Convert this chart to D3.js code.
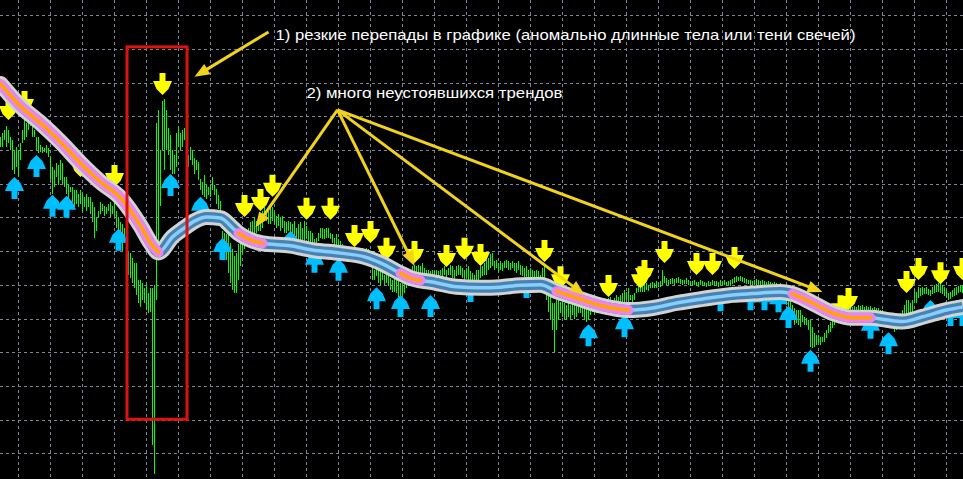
<!DOCTYPE html>
<html><head><meta charset="utf-8">
<script src="https://cdn.jsdelivr.net/npm/d3@7"></script>
<style>html,body{margin:0;padding:0;background:#000;overflow:hidden}</style>
</head><body>
<svg id="chart" width="963" height="479"></svg>
<script>
// Price data in pips above 1.3000, one bar per index
const highs = [94,95,96,97,96,94,93,90,91,90,
 92,96,99,98,99,100,97,96,94,94,
 91.5,91,90.5,91.5,90.5,88,85,84,86,85.5,
 87,86,82,82,80,79,79,78,78,77,
 78,77,76,77,76,76,74.5,73,70,72,
 74.5,74,73.5,73,74,74.5,73.5,75,72,70,
 68.5,68,67,63,60,59.5,58,56.5,56.5,51.5,
 51.5,50.5,49,50,47.5,49,49,50,98,102,
 90,104.5,105,102,96.5,94.5,90,88.5,95,97,
 95,96,96.5,91,88.5,91,90,87.5,87,86.5,
 81.5,80.5,82.5,79.5,79,79.5,82,79.5,78.5,76.5,
 75,66,65.5,65,65.5,62.5,60.5,58.5,59.5,62,
 64,67,67,66,67,68.5,69,70,69,70.5,
 71,72,73,71.5,72,74,73,71.5,70.5,71,
 70,70.5,69,68.5,69,68.5,68,69,67,68,
 68.5,67,69,67.5,66,66,65.5,63.5,64,65.5,
 67,67,66.5,67,67,65.5,65,64,65,63.5,
 63,62,61,61,60.5,61,60.5,60.5,60,61,
 59.5,61,60.5,61,60.5,59,55,54.5,55.5,54.5,
 54,54.5,53,54,53,52,51.5,52,51.5,51.5,
 50.5,50,51,51.5,53,54.5,55.5,56,55.5,56,
 55.5,56.5,55,54.5,54.5,54,54.5,54,54.5,54,
 54.5,55,55.5,54.5,55,56,55.5,54.5,55.5,56,
 55.5,55,54.5,55,55.5,54,53.5,53,54.5,54.5,
 55.5,55.5,56.5,57.5,58,59,59.5,57,57.5,56.5,
 57,56.5,57,57.5,57,56.5,57,56.5,56.5,57,
 56,55.5,55,55.5,54.5,55,54.5,54,54.5,54,
 53,55,55.5,50.5,49.5,46.5,44.5,44.5,45.5,45.5,
 45,45,44.5,44,44.5,44,45.5,45,44.5,45,
 45.5,44.5,44,44,43.5,44.5,45.5,45,45.5,45.5,
 45,45.5,46,45.5,46,46.5,45.5,46,47,46.5,
 47,47.5,48.5,48,49,47,47,47.5,49,49.5,
 50,49.5,50.5,50.5,50,50.5,50.8,50.5,51,50.5,
 51,54.5,52.5,52,51.5,51.7,52,51.7,52,52.3,
 51.7,51.4,51.4,52,51.4,51,51,51.4,50.8,50.8,
 51.4,51,50.8,50.5,51,50.8,51.4,51,51,50.8,
 51.4,51,51.4,50.8,51,51.4,51.7,52.3,52.6,52.3,
 52.6,52.3,52,51.7,51.4,51.4,51,51.4,51.7,51.4,
 51,51.4,51,50.8,51,50.8,50.5,50.8,50.5,50.2,
 50.5,49.9,49.3,47.9,47,45.5,44,43,42.5,42.5,
 42.5,41,40.4,40.2,39.6,39.6,37.5,35.7,35,35,
 34.5,34.5,35.7,36.6,38,39,40.2,41,41.6,42,
 42.5,43,43.4,44,43.7,44,43.4,43.7,43.4,44,
 43.7,44,43.4,43.7,43.4,43.7,43,43.4,43,43,
 42.5,42.5,42,41.6,41,40.2,39.6,38.6,39.6,40.7,
 41.6,42.5,44,45.5,45.5,44.6,45.5,48.5,47.9,49.3,
 49,49.3,49,49.3,48.7,48.5,49.3,49.9,50.2,50.5,
 50.8,49.9,49.3,48.5,47.6,47.9,48.5,49,49.3,49.6,
 49.9,49.6];
const lows = [91,91,93,91,92,90,84,83,85,82,
 87,92,93,94,96,97,94,94,90,89,
 89.5,89,89.5,89,88,81,77,79,82,79.5,
 81,80,79,77,75,77.5,74.5,73,74,73,
 74,72,73,72,73,71,68.5,64,66,70,
 71,72,70.5,71,72,70,71,70.5,67,64,
 62.5,60,62.5,56,53,52,50.5,49,47,44.5,
 43.5,45.5,44.5,42.5,41.5,42,2.5,-6,45.5,59,
 73.5,90,84,90,88.5,84,83,83,85,91,
 90,91,93,84,85,87,85.5,83,84,81,
 78,76.5,76,75.5,76.5,76,78,76.5,74,72.5,
 70.5,63,60.5,57.5,53.5,50.5,48.5,47.5,47.5,51.5,
 55.5,59.5,60.5,62,63,63,64,65,65.5,66,
 66,67,69,69,68,68,69,68,67,67.5,
 66,67,65.5,65.5,66,65,64,64,63.5,63.5,
 63,62,62.5,63.5,62,61,62,61,62,63,
 64,63.5,63.5,64,64,63.5,62.5,61,60.5,61,
 60.5,59,59,58.5,58,58.5,57.5,58,57.5,58.5,
 56.5,58.5,58,57.5,57,56,51.5,51.5,52.5,50.5,
 50,51.5,50,50.5,49.5,48.5,48,48,47.5,46.5,
 46.5,47,47.5,49,50,51,51.5,52,52,53.5,
 52.5,53,51.5,52,51.5,52,52.5,52,52,51.5,
 53,52.5,53,52,53,53,52,51.5,52.5,53,
 53,52,51.5,52,51.5,51.5,51,50.5,51,51.5,
 52,52.5,53,53,54.5,55,55.5,54.5,55,53.5,
 54.5,54,55,55,54.5,54.5,55,54,53.5,54.5,
 53,52.5,52,51.5,51,51.5,50.5,50,50.5,49.5,
 49,52,50.5,45.5,42,39.5,36.5,30,36.5,39.5,
 41.5,40.5,40,39.5,40.5,39.5,41,40,40.5,41.5,
 41.5,40.5,39.5,39,39.5,41,42,41,41.5,42,
 41.5,42.5,42.5,42,43,42.5,42,43.5,44,43.5,
 44,44.5,44.5,45.5,44.5,45.5,45,45.5,47.5,48,
 48,48,48,48.5,48.2,49,49,49,49,49.3,
 49.3,50,50.5,50,50,50.2,50.2,50,50.5,50.5,
 50.2,50,50.2,50.2,50,49.6,50,50,49.6,49.3,
 50,49.6,49.6,49.3,50,49.6,50,49.6,49.6,49.3,
 50,49.6,50,49.6,50,49.6,50.2,50.5,50.8,51,
 51,50.8,50.5,50.2,50.2,50,50,50.2,50,50,
 49.6,50,50,49.6,49.6,49.3,49.3,49,49,48.7,
 48.5,47.9,47,44,42.5,41,39.6,38,38.6,38,
 37.5,39,38,38,36.6,31.5,31.2,31.5,32,32.7,
 32,33,33,34.2,35.7,36,37.2,38,39,39.6,
 40.2,40.7,41,41.6,41.6,41.6,41.6,41.9,41.6,41.9,
 41.6,41.9,41.6,41.9,41.6,41.9,41.6,41.9,41.3,41.6,
 41,40.7,40.2,39.6,38.9,38,37.5,36,36.6,37.8,
 38.6,39.6,40.2,40.4,41.3,41.9,40.4,44.6,44.6,46,
 46.7,47,47.3,47.3,47,46.7,47.3,47.6,47.9,47.9,
 47.6,47.3,46.7,46.1,45.5,45.8,46.4,46.7,47,47.6,
 47.9,47.6];

// Moving average samples (bar index, value)
const maBars = [0,10,20,30,40,50,60,70,75,79,86,92,97,103,110,116,119,125,131,145,156,170,182,190,200,205,210,215,228,240,250,260,270,278,285,291,301,308,314,326,338,351,366,376,390,396,406,416,426,435,443,451,461,473,481];
const maValues = [109.6,103.0,98.0,92.4,86.1,80.5,75.8,67.5,62.4,59.6,64.2,66.9,68.9,70.1,69.8,66.9,65.3,63.3,62.3,61.6,60.3,59.4,58.3,56.5,53.4,52.0,51.3,50.9,49.4,49.1,49.3,49.9,50.0,48.1,46.7,45.5,43.7,42.9,42.5,43.1,44.6,45.8,47.0,47.4,47.9,47.3,44.6,41.6,40.2,40.2,39.6,39.1,40.5,42.5,43.4];
const downTrendRanges = [[0,79],[119,131],[200,210],[278,314],[396,435]];

// Signal arrows: bar index and tip price
const sellBars = [4,12,40,57,81,122,130,136,153,165,177,185,193,207,223,232,240,272,280,304,320,322,332,348,356,367,420,424,453,459,470,481];
const sellPrices = [98.9,101.0,82.0,79.0,106.3,70.1,71.9,76.1,69.3,69.3,61.2,62.4,57.4,56.5,55.3,57.4,55.6,56.8,49.0,46.4,49.0,50.8,56.5,52.9,52.9,54.7,40.4,42.5,47.6,51.4,50.2,51.4];
const buyBars = [7,18,26,33,59,85,100,111,145,157,169,188,200,215,235,263,294,312,360,375,382,389,394,405,435,444,465,475,481];
const buyPrices = [82.0,88.5,76.7,76.4,66.6,82.9,76.1,63.9,66.0,60.1,57.7,49.3,47.0,47.0,51.4,52.6,38.3,41.0,48.7,49.0,49.0,48.4,43.7,30.7,40.5,35.9,45.5,44.3,44.3];

// Grid ticks
const gridBars = d3.range(9, 482, 16);
const gridPrices = d3.range(0, 131, 10);

// Highlight box (bars / prices)
const boxBars = [63.25, 93.25];
const boxPrices = [120.6, 10.1];

// Annotation texts and anchors (bar, price)
const noteTexts = ["1) резкие перепады в графике (аномально длинные тела или тени свечей)", "2) много неустоявшихся трендов"];
const noteStartBars = [137.5, 153];
const noteEndBars = [427.5, 281];
const notePrices = [122.6, 105.4];
const noteArrowFrom = [[134,125.0],[168.5,101.9],[168.5,101.9],[168.5,101.9],[168.5,101.9]];
const noteArrowTo = [[97,111.7],[127.5,67.1],[207,55.6],[292,47.0],[411,47.9]];

const W = 963, H = 479;
const svg = d3.select("#chart");
svg.append("rect").attr("width", W).attr("height", H).attr("fill", "#000");

const x = d3.scaleLinear().domain([0, 481]).range([0.5, 962.5]);
const y = d3.scaleLinear().domain([0, 130]).range([453.3, 15.2]);

// grid
const grid = svg.append("g").attr("stroke", "#778899").attr("stroke-width", 1)
  .attr("stroke-dasharray", "3,3").attr("shape-rendering", "crispEdges");
grid.selectAll("line.v").data(gridBars).join("line").attr("class", "v")
  .attr("x1", d => x(d)).attr("x2", d => x(d)).attr("y1", 0).attr("y2", H);
grid.selectAll("line.h").data(gridPrices).join("line").attr("class", "h")
  .attr("y1", d => Math.round(y(d)) + 0.5).attr("y2", d => Math.round(y(d)) + 0.5).attr("x1", 0).attr("x2", W);

// bars
const bars = highs.map((h, i) => ({i, h, l: lows[i]}));
svg.append("g").attr("stroke", "#00ff00").attr("stroke-width", 1).attr("shape-rendering", "crispEdges")
  .selectAll("line").data(bars).join("line")
  .attr("x1", d => x(d.i)).attr("x2", d => x(d.i))
  .attr("y1", d => Math.round(y(d.h))).attr("y2", d => Math.max(Math.round(y(d.l)), Math.round(y(d.h)) + 2));

// arrows
const downShape = [[-3,-22],[3,-22],[3,-14],[9.5,-14],[6,-6],[0,0],[-6,-6],[-9.5,-14],[-3,-14]];
const upShape = downShape.map(p => [p[0], -p[1]]);
const sells = sellBars.map((b, i) => ({b, p: sellPrices[i]}));
const buys = buyBars.map((b, i) => ({b, p: buyPrices[i]}));
svg.append("g").selectAll("polygon").data(sells).join("polygon")
  .attr("fill", "#ffff00")
  .attr("points", d => downShape.map(p => [x(d.b) + p[0], y(d.p) + p[1]].join(",")).join(" "));
svg.append("g").selectAll("polygon").data(buys).join("polygon")
  .attr("fill", "#00bfff")
  .attr("points", d => upShape.map(p => [x(d.b) + p[0], y(d.p) + p[1]].join(",")).join(" "));

// moving average band
const ma = maBars.map((b, i) => ({b, v: maValues[i]}));
const line = d3.line().x(d => x(d.b)).y(d => y(d.v)).curve(d3.curveMonotoneX);
const maG = svg.append("g").attr("fill", "none").attr("stroke-linejoin", "round");
maG.append("path").attr("d", line(ma)).attr("stroke", "#d3d3d3").attr("stroke-width", 16).attr("stroke-linecap", "round");
maG.append("path").attr("d", line(ma)).attr("stroke", "#4682b4").attr("stroke-width", 10);
maG.append("path").attr("d", line(ma)).attr("stroke", "#87cefa").attr("stroke-width", 3.5);
downTrendRanges.forEach(([a, b]) => {
  const seg = ma.filter(d => d.b >= a && d.b <= b);
  maG.append("path").attr("d", line(seg)).attr("stroke", "#ee82ee").attr("stroke-width", 10).attr("stroke-linecap", "round");
  maG.append("path").attr("d", line(seg)).attr("stroke", "#ffa500").attr("stroke-width", 3.5).attr("stroke-linecap", "round");
});

// highlight box
svg.append("rect")
  .attr("x", x(boxBars[0])).attr("y", y(boxPrices[0]))
  .attr("width", x(boxBars[1]) - x(boxBars[0])).attr("height", y(boxPrices[1]) - y(boxPrices[0]))
  .attr("fill", "none").attr("stroke", "#dd1111").attr("stroke-width", 3);

// annotation arrows
const noteG = svg.append("g");
noteArrowFrom.forEach((f, i) => {
  const t = noteArrowTo[i];
  const x1 = x(f[0]), y1 = y(f[1]), x2 = x(t[0]), y2 = y(t[1]);
  const dx = x2 - x1, dy = y2 - y1, len = Math.hypot(dx, dy);
  const ux = dx / len, uy = dy / len, hl = 15, hw = 6;
  const bx = x2 - ux * hl, by = y2 - uy * hl;
  noteG.append("line").attr("x1", x1).attr("y1", y1).attr("x2", bx + ux * 2).attr("y2", by + uy * 2)
    .attr("stroke", "#f2d31b").attr("stroke-width", 3);
  noteG.append("polygon").attr("fill", "#f2d31b")
    .attr("points", [[x2, y2], [bx - uy * hw, by + ux * hw], [bx + uy * hw, by - ux * hw]].map(p => p.join(",")).join(" "));
});

// annotation texts
noteTexts.forEach((t, i) => {
  svg.append("text").text(t)
    .attr("x", x(noteStartBars[i])).attr("y", y(notePrices[i]))
    .attr("textLength", x(noteEndBars[i]) - x(noteStartBars[i]))
    .attr("lengthAdjust", "spacingAndGlyphs")
    .attr("fill", "#ffffff").attr("font-family", "'Liberation Sans', Arial, sans-serif")
    .attr("font-size", 15);
});
</script>
</body></html>
